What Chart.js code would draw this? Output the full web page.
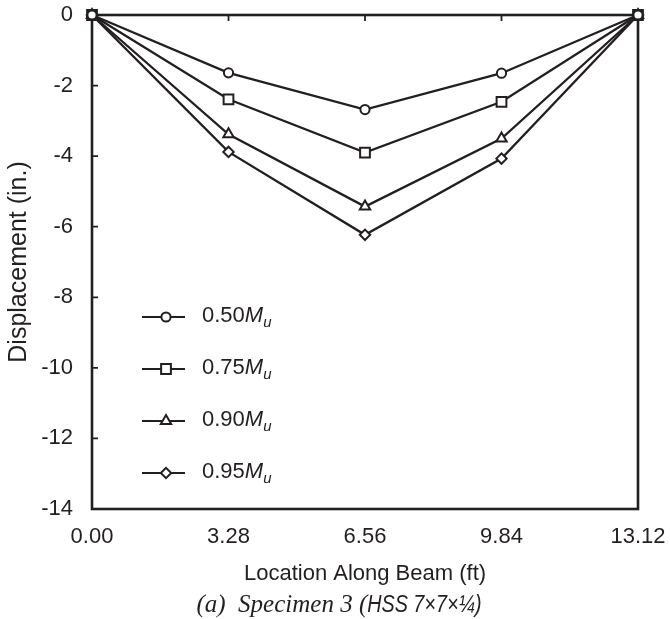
<!DOCTYPE html>
<html>
<head>
<meta charset="utf-8">
<script src="https://cdn.jsdelivr.net/npm/chart.js@4"></script>
<style>
  html, body { margin: 0; padding: 0; background: #fff; }
  #wrap { width: 670px; height: 619px; }
</style>
</head>
<body>
<div id="wrap"><canvas id="beamChart"></canvas></div>
<script>
// location along beam (ft) and displacement (in.)
const locations = [0, 3.28, 6.56, 9.84, 13.12];
const disp050 = [0, -1.64, -2.68, -1.65, 0];
const disp075 = [0, -2.39, -3.90, -2.46, 0];
const disp090 = [0, -3.38, -5.43, -3.50, 0];
const disp095 = [0, -3.88, -6.23, -4.07, 0];
const loadLevels = ['0.50', '0.75', '0.90', '0.95'];
const xTickValues = [0, 3.28, 6.56, 9.84, 13.12];
const yMin = -14, yMax = 0, yStep = 2;
const caption = ['(a)  Specimen 3 (', 'HSS 7×7×¼)'];

const INK = '#231f20';
const SANS = '"Liberation Sans", Arial, sans-serif';

function series(values, label, style, radius) {
    return {
        label: label,
        data: locations.map((x, i) => ({ x: x, y: values[i] })),
        borderColor: INK,
        borderWidth: 2.3,
        backgroundColor: '#fff',
        pointStyle: style,
        pointRadius: radius,
        pointBorderWidth: 2,
        pointBorderColor: INK,
        pointBackgroundColor: '#fff',
        tension: 0,
        clip: false
    };
}

const datasets = [
    series(disp050, loadLevels[0], 'circle', 4.6),
    series(disp075, loadLevels[1], 'rect', 6.9),
    series(disp090, loadLevels[2], 'triangle', 6),
    series(disp095, loadLevels[3], 'rectRot', 5.2)
];

// box around the plot, with short inward ticks on the left and top edges
const framePlugin = {
    id: 'frame',
    beforeDatasetsDraw(chart) {
        const { ctx, chartArea: a, scales } = chart;
        ctx.save();
        ctx.strokeStyle = INK;
        ctx.lineWidth = 2.6;
        ctx.strokeRect(a.left, a.top, a.right - a.left, a.bottom - a.top);
        ctx.lineWidth = 1.8;
        ctx.beginPath();
        scales.y.ticks.forEach(t => {
            if (t.value === yMin || t.value === yMax) return;
            const py = scales.y.getPixelForValue(t.value);
            ctx.moveTo(a.left, py);
            ctx.lineTo(a.left + 6, py);
        });
        scales.x.ticks.forEach((t, i) => {
            if (i === 0 || i === scales.x.ticks.length - 1) return;
            const px = scales.x.getPixelForValue(t.value);
            ctx.moveTo(px, a.top);
            ctx.lineTo(px, a.top + 6);
        });
        ctx.stroke();
        ctx.restore();
    }
};

// legend in the lower left of the plot, and the figure caption
const legendPlugin = {
    id: 'insideLegend',
    afterDraw(chart) {
        const { ctx, chartArea: a } = chart;
        ctx.save();
        chart.data.datasets.forEach((ds, i) => {
            const y = a.top + 302 + i * 52;
            const x0 = a.left + 50;
            ctx.strokeStyle = INK;
            ctx.lineWidth = 2.2;
            ctx.beginPath();
            ctx.moveTo(x0, y);
            ctx.lineTo(x0 + 43, y);
            ctx.stroke();
            ctx.fillStyle = '#fff';
            ctx.strokeStyle = INK;
            ctx.lineWidth = ds.pointBorderWidth;
            Chart.helpers.drawPoint(ctx, {
                pointStyle: ds.pointStyle,
                radius: ds.pointRadius,
                borderWidth: ds.pointBorderWidth,
                rotation: 0
            }, x0 + 24, y);

            let tx = x0 + 60;
            ctx.fillStyle = INK;
            ctx.textBaseline = 'alphabetic';
            ctx.textAlign = 'left';
            ctx.font = '22px ' + SANS;
            ctx.fillText(ds.label, tx, y + 5);
            tx += ctx.measureText(ds.label).width;
            ctx.font = 'italic 22px ' + SANS;
            ctx.fillText('M', tx, y + 5);
            tx += ctx.measureText('M').width;
            ctx.font = 'italic 15px ' + SANS;
            ctx.fillText('u', tx, y + 10);
        });

        // caption: serif italic with the section size in sans italic
        const serif = 'italic 25px "Liberation Serif", "Times New Roman", serif';
        const sans = 'italic 23px ' + SANS;
        ctx.font = serif;
        const w1 = ctx.measureText(caption[0]).width;
        ctx.font = sans;
        const w2 = ctx.measureText(caption[1]).width * 0.86;
        let cx = (a.left + a.right) / 2 - 26 - (w1 + w2) / 2;
        const base = chart.height - 7;
        ctx.fillStyle = INK;
        ctx.font = serif;
        ctx.fillText(caption[0], cx, base);
        cx += w1;
        ctx.translate(cx, base);
        ctx.scale(0.86, 1);
        ctx.font = sans;
        ctx.fillText(caption[1], 0, 0);
        ctx.restore();
    }
};

const ctx = document.getElementById('beamChart').getContext('2d');
new Chart(ctx, {
    type: 'line',
    data: { datasets: datasets },
    options: {
        responsive: true,
        maintainAspectRatio: false,
        animation: false,
        events: [],
        layout: { padding: { left: 0, top: 15, right: 32, bottom: 0 } },
        plugins: {
            legend: { display: false },
            tooltip: { enabled: false }
        },
        scales: {
            x: {
                type: 'linear',
                min: 0,
                max: 13.12,
                afterBuildTicks: scale => {
                    scale.ticks = xTickValues.map(v => ({ value: v }));
                },
                afterFit: scale => {
                    scale.height = 110;
                    scale.paddingLeft = 0;
                    scale.paddingRight = 0;
                },
                grid: { display: false, drawTicks: false },
                border: { display: false },
                ticks: {
                    color: INK,
                    padding: 15,
                    maxRotation: 0,
                    font: { family: SANS, size: 22 },
                    callback: v => Number(v).toFixed(2)
                },
                title: {
                    display: true,
                    text: 'Location Along Beam (ft)',
                    color: INK,
                    font: { family: SANS, size: 22 },
                    padding: { top: 0, bottom: 32 }
                }
            },
            y: {
                min: yMin,
                max: yMax,
                afterFit: scale => {
                    scale.width = 92;
                    scale.paddingTop = 0;
                    scale.paddingBottom = 0;
                },
                grid: { display: false, drawTicks: false },
                border: { display: false },
                ticks: {
                    stepSize: yStep,
                    color: INK,
                    padding: 19,
                    font: { family: SANS, size: 22 }
                },
                title: {
                    display: true,
                    text: 'Displacement (in.)',
                    color: INK,
                    font: { family: SANS, size: 25 },
                    padding: { top: 4, bottom: 0 }
                }
            }
        }
    },
    plugins: [framePlugin, legendPlugin]
});
</script>
</body>
</html>
